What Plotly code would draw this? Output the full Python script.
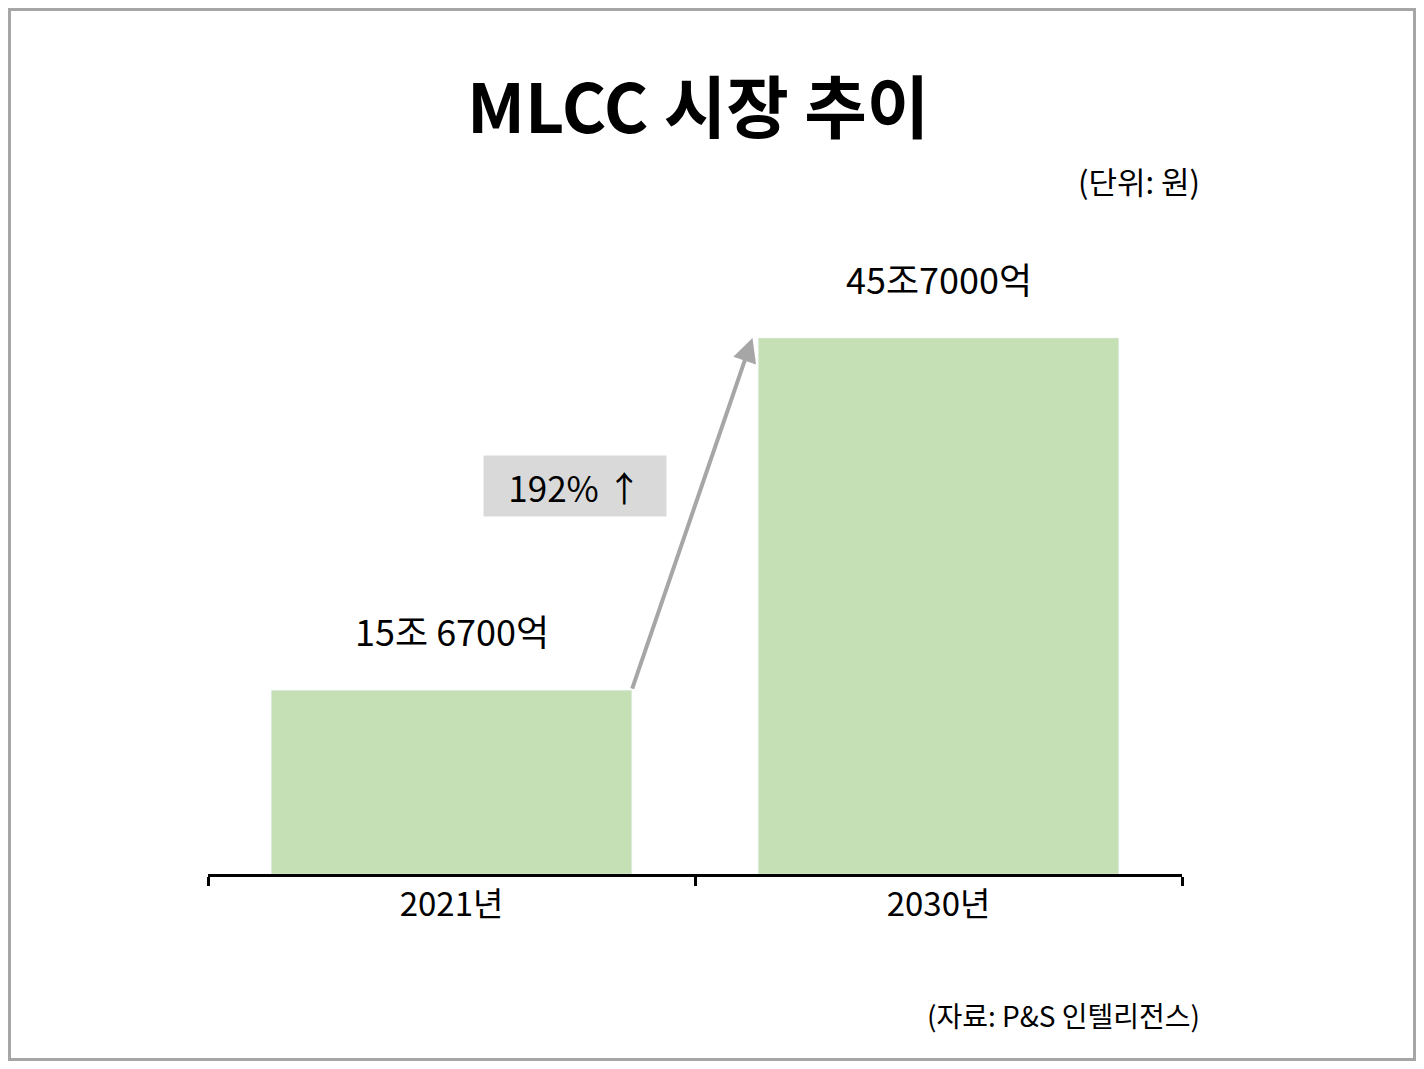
import plotly.graph_objects as go

years = ["2021년", "2030년"]
values = [15.67, 45.7]
value_labels = ["15조 6700억", "45조7000억"]
growth_label = "192% ↑"

O = 8  # page body offset
W, H = 1424 - 2 * O, 1069 - 2 * O
L, R, T, B = 208 - O, 234 - O + O, 200 - O, 187 - O + O
pw, ph = W - L - R, H - T - B
FONT = "Noto Sans CJK KR"
bar_w = 0.74

def px(x):
    return (x - O - L) / pw

def py(y):
    return (H - B - (y - O)) / ph

fig = go.Figure()
fig.add_trace(go.Bar(x=years, y=values, width=bar_w, marker_color="#c5e0b4",
                     hoverinfo="skip"))

for i, (v, lab) in enumerate(zip(values, value_labels)):
    fig.add_annotation(x=i, y=v, yshift=60, text=lab, showarrow=False,
                       yanchor="middle", xanchor="center",
                       font=dict(size=36, color="black", family=FONT))

# growth arrow from top-right of first bar to near top-left of second bar
fig.add_annotation(x=1 - bar_w / 2 - 0.012, y=values[1], ax=bar_w / 2, ay=values[0],
                   xref="x", yref="y", axref="x", ayref="y", text="",
                   showarrow=True, arrowhead=2, arrowsize=1.2, arrowwidth=4,
                   arrowcolor="#a6a6a6")

fig.add_annotation(x=px(575), y=py(486), xref="paper", yref="paper", text=growth_label,
                   showarrow=False, bgcolor="#d9d9d9", width=180, height=58,
                   xanchor="center", yanchor="middle",
                   font=dict(size=35, color="black", family=FONT))

fig.add_annotation(x=px(698), y=py(103), xref="paper", yref="paper",
                   text="<b>MLCC 시장 추이</b>", showarrow=False,
                   xanchor="center", yanchor="middle",
                   font=dict(size=68, color="black", family=FONT))
fig.add_annotation(x=px(1202), y=py(180), xref="paper", yref="paper", xanchor="right",
                   yanchor="middle", text="(단위: 원)", showarrow=False,
                   font=dict(size=31, color="black", family=FONT))
fig.add_annotation(x=px(1202), y=py(1015), xref="paper", yref="paper", xanchor="right",
                   yanchor="middle", text="(자료: P&S 인텔리전스)", showarrow=False,
                   font=dict(size=28, color="black", family=FONT))

fig.add_shape(type="rect", xref="paper", yref="paper",
              x0=px(O + 1.5), x1=px(W + O - 1.5), y0=py(H + O - 1.5), y1=py(O + 1.5),
              line=dict(color="#a6a6a6", width=3))

fig.update_layout(
    width=W, height=H, margin=dict(l=L, r=R, t=T, b=B),
    plot_bgcolor="white", paper_bgcolor="white", showlegend=False,
    xaxis=dict(type="category", range=[-0.5, 1.5],
               showline=True, linecolor="black", linewidth=2.5,
               ticks="outside", tickson="boundaries", ticklen=9, tickwidth=2.5,
               tickcolor="black", showgrid=False,
               tickfont=dict(size=33, color="black", family=FONT)),
    yaxis=dict(range=[0, values[1] * ph / 536], visible=False),
)

fig.write_html("out.html")
